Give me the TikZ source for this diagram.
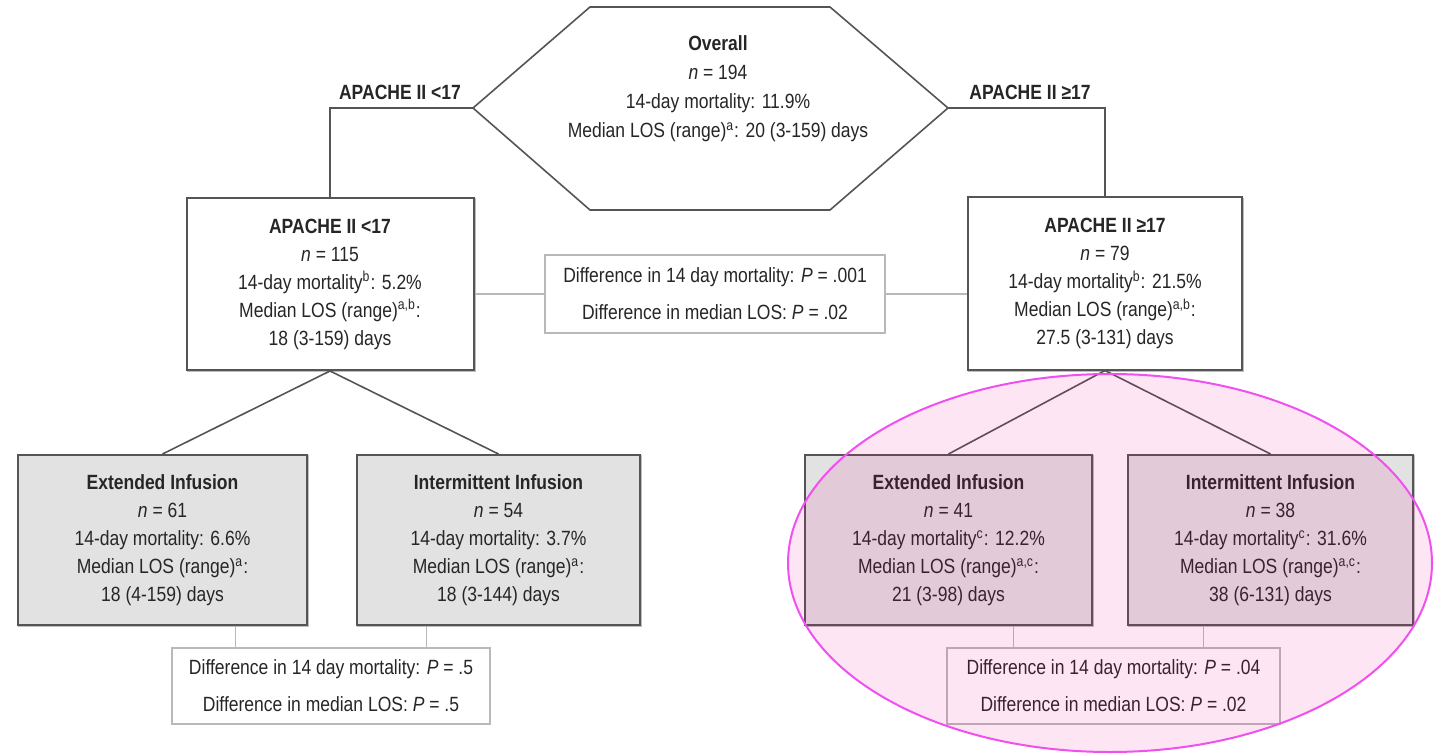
\documentclass[tikz,border=0pt]{standalone}
\usepackage{fontspec}
\setmainfont{Liberation Sans}[FakeStretch=0.85]
\usepackage{tikz}
\definecolor{Bline}{RGB}{85,85,85}
\definecolor{Armfill}{RGB}{226,226,226}
\definecolor{Dline}{RGB}{185,185,185}
\definecolor{Hilite}{RGB}{240,80,240}
\usetikzlibrary{shadows,calc}

\tikzset{
  txt/.style={font=\fontsize{10.3}{14}\selectfont, align=center, text=black!85},
  grpbox/.style={txt, draw=Bline, line width=1pt, fill=white, minimum height=86pt, inner sep=0pt,
                 copy shadow={draw=black!25, fill=black!25, shadow xshift=0.5pt, shadow yshift=-0.7pt}},
  armbox/.style={grpbox, fill=Armfill, minimum height=85pt},
  diffbox/.style={txt, font=\fontsize{10.3}{18.5}\selectfont, draw=Dline, line width=0.6pt, fill=white},
  lab/.style={txt, font=\bfseries\fontsize{10.3}{14}\selectfont},
  split/.style={draw=Bline, line width=0.8pt},
  link/.style={draw=Dline, line width=0.7pt}
}

\begin{document}
\begin{tikzpicture}[x=0.5pt, y=-0.5pt]
    \useasboundingbox (0,0) rectangle (1434,754);

    % overall group
    \coordinate (hexL) at (473,108);
    \coordinate (hexR) at (948,108);
    \draw[Bline, line width=0.8pt, fill=white] (590,7) -- (830,7) -- (hexR)
          -- (830,210) -- (590,210) -- (hexL) -- cycle;
    \node[txt, font=\fontsize{10.3}{14.5}\selectfont] (overall) at (718,89)
          {\textbf{Overall}\\ \textit{n} = 194\\ 14-day mortality: 11.9\%\\
           Median LOS (range)\textsuperscript{a}: 20 (3-159) days};

    % APACHE split
    \node[grpbox, minimum width=143.5pt] (lowA) at (330,284)
          {\textbf{APACHE II <17}\\ \textit{n} = 115\\ 14-day mortality\textsuperscript{b}: 5.2\%\\
           Median LOS (range)\textsuperscript{a,b}:\\ 18 (3-159) days};
    \node[grpbox, minimum width=137pt] (highA) at (1105,283.5)
          {\textbf{APACHE II ≥17}\\ \textit{n} = 79\\ 14-day mortality\textsuperscript{b}: 21.5\%\\
           Median LOS (range)\textsuperscript{a,b}:\\ 27.5 (3-131) days};
    \draw[split] (hexL) -| (lowA.north);
    \draw[split] (hexR) -| (highA.north);
    \node[lab] (lowlab) at (400,92) {APACHE II <17};
    \node[lab] (highlab) at (1030,92) {APACHE II ≥17};

    \node[diffbox, minimum width=170pt, minimum height=39pt] (diffA) at (715,294)
          {Difference in 14 day mortality: \textit{P} = .001\\ Difference in median LOS: \textit{P} = .02};
    \draw[link] (diffA.west) -- (diffA.west -| lowA.east);
    \draw[link] (diffA.east) -- (diffA.east -| highA.west);

    % infusion arms, low score
    \node[armbox, minimum width=144.5pt] (extL) at (162.5,540)
          {\textbf{Extended Infusion}\\ \textit{n} = 61\\ 14-day mortality: 6.6\%\\
           Median LOS (range)\textsuperscript{a}:\\ 18 (4-159) days};
    \node[armbox, minimum width=141.5pt] (intL) at (498.5,540)
          {\textbf{Intermittent Infusion}\\ \textit{n} = 54\\ 14-day mortality: 3.7\%\\
           Median LOS (range)\textsuperscript{a}:\\ 18 (3-144) days};
    \draw[split] (lowA.south) -- (extL.north);
    \draw[split] (lowA.south) -- (intL.north);

    \node[diffbox, minimum width=159pt, minimum height=38pt] (diffL) at (331,686)
          {Difference in 14 day mortality: \textit{P} = .5\\ Difference in median LOS: \textit{P} = .5};
    \draw[link] ($(diffL.north west)!0.2!(diffL.north east)$) coordinate (dL1) -- (dL1 |- extL.south);
    \draw[link] ($(diffL.north west)!0.8!(diffL.north east)$) coordinate (dL2) -- (dL2 |- intL.south);

    % infusion arms, high score
    \node[armbox, minimum width=143.5pt] (extR) at (948.5,540)
          {\textbf{Extended Infusion}\\ \textit{n} = 41\\ 14-day mortality\textsuperscript{c}: 12.2\%\\
           Median LOS (range)\textsuperscript{a,c}:\\ 21 (3-98) days};
    \node[armbox, minimum width=142.5pt] (intR) at (1270.5,540)
          {\textbf{Intermittent Infusion}\\ \textit{n} = 38\\ 14-day mortality\textsuperscript{c}: 31.6\%\\
           Median LOS (range)\textsuperscript{a,c}:\\ 38 (6-131) days};
    \draw[split] (highA.south) -- (extR.north);
    \draw[split] (highA.south) -- (intR.north);

    \node[diffbox, minimum width=166.5pt, minimum height=38pt] (diffR) at (1113.5,686)
          {Difference in 14 day mortality: \textit{P} = .04\\ Difference in median LOS: \textit{P} = .02};
    \draw[link] ($(diffR.north west)!0.2!(diffR.north east)$) coordinate (dR1) -- (dR1 |- extR.south);
    \draw[link] ($(diffR.north west)!0.77!(diffR.north east)$) coordinate (dR2) -- (dR2 |- intR.south);

    % highlight
    \draw[Hilite, line width=1pt, fill=magenta, fill opacity=0.1] (1110,563)
          ellipse [x radius=161pt, y radius=94.5pt];
\end{tikzpicture}
\end{document}
